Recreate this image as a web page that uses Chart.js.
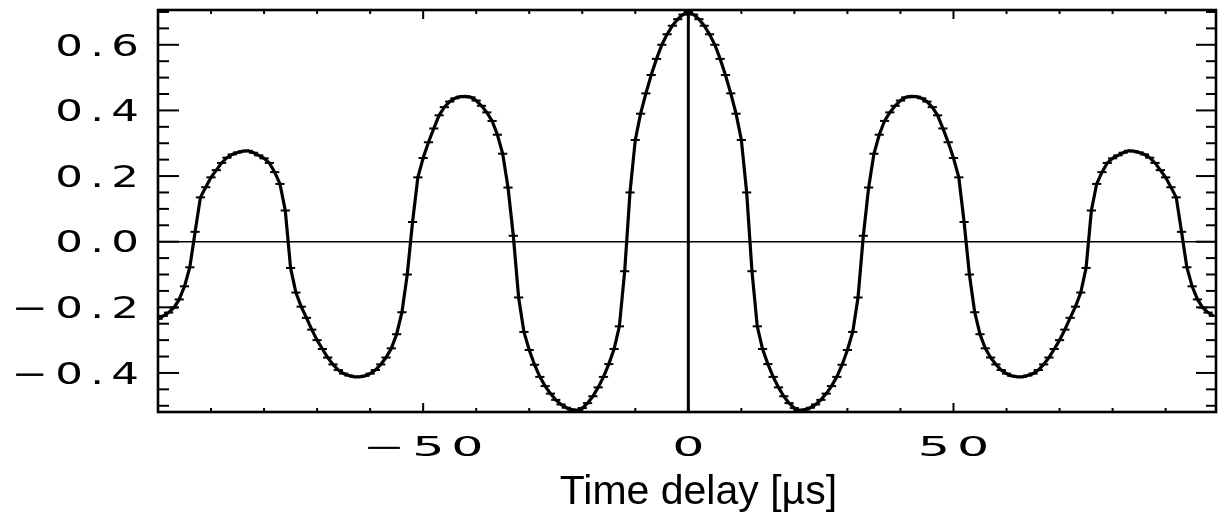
<!DOCTYPE html>
<html><head><meta charset="utf-8">
<script src="https://cdn.jsdelivr.net/npm/chart.js@4/dist/chart.umd.min.js"></script>
<style>html,body{margin:0;padding:0;background:#fff;}canvas{display:block;}</style>
</head><body>
<canvas id="c" width="1225" height="517"></canvas>
<script>
const timeDelay = [
-100,-99,-98,-97,-96,-95,-94,-93,-92,-91,-90,-89,-88,-87,-86,-85,-84,-83,-82,-81,
-80,-79,-78,-77,-76,-75,-74,-73,-72,-71,-70,-69,-68,-67,-66,-65,-64,-63,-62,-61,
-60,-59,-58,-57,-56,-55,-54,-53,-52,-51,-50,-49,-48,-47,-46,-45,-44,-43,-42,-41,
-40,-39,-38,-37,-36,-35,-34,-33,-32,-31,-30,-29,-28,-27,-26,-25,-24,-23,-22,-21,
-20,-19,-18,-17,-16,-15,-14,-13,-12,-11,-10,-9,-8,-7,-6,-5,-4,-3,-2,-1,
0,1,2,3,4,5,6,7,8,9,10,11,12,13,14,15,16,17,18,19,
20,21,22,23,24,25,26,27,28,29,30,31,32,33,34,35,36,37,38,39,
40,41,42,43,44,45,46,47,48,49,50,51,52,53,54,55,56,57,58,59,
60,61,62,63,64,65,66,67,68,69,70,71,72,73,74,75,76,77,78,79,
80,81,82,83,84,85,86,87,88,89,90,91,92,93,94,95,96,97,98,99
];
const correlation = [
-0.235,-0.226,-0.216,-0.201,-0.176,-0.136,-0.078,0.030,0.135,0.166,
0.196,0.218,0.240,0.256,0.266,0.272,0.276,0.277,0.271,0.263,
0.254,0.240,0.212,0.176,0.095,-0.080,-0.155,-0.198,-0.232,-0.268,
-0.300,-0.327,-0.353,-0.374,-0.391,-0.402,-0.408,-0.412,-0.412,-0.409,
-0.402,-0.391,-0.374,-0.353,-0.325,-0.282,-0.215,-0.100,0.060,0.196,
0.255,0.303,0.345,0.385,0.410,0.427,0.437,0.442,0.443,0.440,
0.430,0.414,0.394,0.368,0.326,0.268,0.165,0.018,-0.170,-0.275,
-0.330,-0.375,-0.412,-0.440,-0.463,-0.482,-0.496,-0.506,-0.512,-0.514,
-0.507,-0.492,-0.471,-0.444,-0.412,-0.373,-0.327,-0.258,-0.090,0.150,
0.310,0.390,0.452,0.508,0.557,0.600,0.632,0.658,0.678,0.692,
0.700,0.692,0.678,0.658,0.632,0.600,0.557,0.508,0.452,0.390,
0.310,0.150,-0.090,-0.258,-0.327,-0.373,-0.412,-0.444,-0.471,-0.492,
-0.507,-0.514,-0.512,-0.506,-0.496,-0.482,-0.463,-0.440,-0.412,-0.375,
-0.330,-0.275,-0.170,0.018,0.165,0.268,0.326,0.368,0.394,0.414,
0.430,0.440,0.443,0.442,0.437,0.427,0.410,0.385,0.345,0.303,
0.255,0.196,0.060,-0.100,-0.215,-0.282,-0.325,-0.353,-0.374,-0.391,
-0.402,-0.409,-0.412,-0.412,-0.408,-0.402,-0.391,-0.374,-0.353,-0.327,
-0.300,-0.268,-0.232,-0.198,-0.155,-0.080,0.095,0.176,0.212,0.240,
0.254,0.263,0.271,0.277,0.276,0.272,0.266,0.256,0.240,0.218,
0.196,0.166,0.135,0.030,-0.078,-0.136,-0.176,-0.201,-0.216,-0.226
];
const xTickValues = [-50, 0, 50];
const xMinorTickValues = [-90,-80,-70,-60,-40,-30,-20,-10,10,20,30,40,60,70,80,90];
const yTickValues = [-0.4, -0.2, 0.0, 0.2, 0.4, 0.6];
const yMinorTickValues = [-0.5,-0.45,-0.35,-0.3,-0.25,-0.15,-0.1,-0.05,0.05,0.1,0.15,0.25,0.3,0.35,0.45,0.5,0.55,0.65,0.7];
const xAxisTitle = '  Time delay [\u00b5s]';
const xRange = [-100, 99.5];
const yRange = [-0.519, 0.706];

const fmt = (v, d) => (v < -1e-9 ? '\u2212' : '') + Math.abs(v).toFixed(d);

// Draw the scale's own label items with a horizontal stretch (mimics the wide stroke font)
function stretchLabels(scale, SX, LS, DY) {
  scale.drawLabels = function (chartArea) {
    const ctx = this.ctx;
    const items = this.getLabelItems(chartArea);
    for (const item of items) {
      const o = item.options;
      ctx.save();
      let tx = o.translation[0];
      if (o.textAlign === 'right') tx += LS * SX;
      else if (o.textAlign === 'center') tx += LS * SX / 2;
      ctx.translate(tx, o.translation[1] + DY);
      ctx.scale(SX, 1);
      ctx.font = item.font.string;
      ctx.fillStyle = o.color;
      ctx.textAlign = o.textAlign;
      ctx.textBaseline = o.textBaseline;
      ctx.letterSpacing = LS + 'px';
      ctx.fillText(item.label, 0, item.textOffset);
      ctx.restore();
    }
  };
}

const boxPlugin = {
  id: 'box',
  afterDatasetsDraw(chart) {
    const {ctx, chartArea: a, scales: {x, y}} = chart;
    const seg = (x1, y1, x2, y2) => { ctx.beginPath(); ctx.moveTo(x1, y1); ctx.lineTo(x2, y2); ctx.stroke(); };
    ctx.save();
    ctx.strokeStyle = '#000';
    ctx.lineCap = 'butt';
    const y0 = y.getPixelForValue(0), x0 = x.getPixelForValue(0);
    ctx.lineWidth = 1.6; seg(a.left, y0, a.right, y0);
    ctx.lineWidth = 3; seg(x0, a.top, x0, a.bottom);
    ctx.lineWidth = 2;
    yTickValues.forEach(v => { const p = y.getPixelForValue(v); seg(a.left, p, a.left + 21, p); seg(a.right, p, a.right - 20, p); });
    yMinorTickValues.forEach(v => { const p = y.getPixelForValue(v); seg(a.left, p, a.left + 11, p); seg(a.right, p, a.right - 10, p); });
    xTickValues.forEach(v => { const p = x.getPixelForValue(v); seg(p, a.bottom, p, a.bottom - 9); seg(p, a.top, p, a.top + 9); });
    xMinorTickValues.forEach(v => { const p = x.getPixelForValue(v); seg(p, a.bottom, p, a.bottom - 4); seg(p, a.top, p, a.top + 4); });
    ctx.lineWidth = 2.6;
    ctx.strokeRect(a.left, a.top, a.right - a.left, a.bottom - a.top);
    ctx.restore();
  }
};

new Chart(document.getElementById('c'), {
  type: 'line',
  data: {
    datasets: [{
      data: timeDelay.map((t, i) => ({x: t, y: correlation[i]})),
      borderColor: '#000',
      borderWidth: 3.2,
      pointStyle: 'line',
      pointRadius: 4.6,
      pointBorderWidth: 2,
      pointBorderColor: '#000',
      pointBackgroundColor: '#000',
      tension: 0,
      fill: false
    }]
  },
  options: {
    responsive: false,
    animation: false,
    events: [],
    layout: {padding: {left: 0, right: 9, top: 10, bottom: 0}},
    plugins: {legend: {display: false}, tooltip: {enabled: false}},
    scales: {
      x: {
        type: 'linear', min: xRange[0], max: xRange[1],
        afterBuildTicks: s => { s.ticks = xTickValues.map(v => ({value: v})); },
        afterFit: s => { s.height = 105; s.paddingLeft = 0; s.paddingRight = 0; stretchLabels(s, 1.95, 3.5, 1); },
        grid: {display: false, drawTicks: false},
        border: {display: false},
        ticks: {z: 1, autoSkip: false, maxRotation: 0, padding: 21, color: '#000',
          font: {family: 'DejaVu Sans', size: 26}, callback: v => fmt(v, 0)},
        title: {display: true, text: xAxisTitle, color: '#000', padding: {top: 0, bottom: 0},
          font: {family: 'Liberation Sans', size: 41}}
      },
      y: {
        type: 'linear', min: yRange[0], max: yRange[1],
        afterBuildTicks: s => { s.ticks = yTickValues.map(v => ({value: v})); },
        afterFit: s => { s.width = 158; s.paddingTop = 0; s.paddingBottom = 0; stretchLabels(s, 1.45, 5, 3); },
        grid: {display: false, drawTicks: false},
        border: {display: false},
        ticks: {z: 1, autoSkip: false, padding: 19, color: '#000',
          font: {family: 'DejaVu Sans', size: 30}, callback: v => fmt(v, 1)}
      }
    }
  },
  plugins: [boxPlugin]
});
</script>
</body></html>
